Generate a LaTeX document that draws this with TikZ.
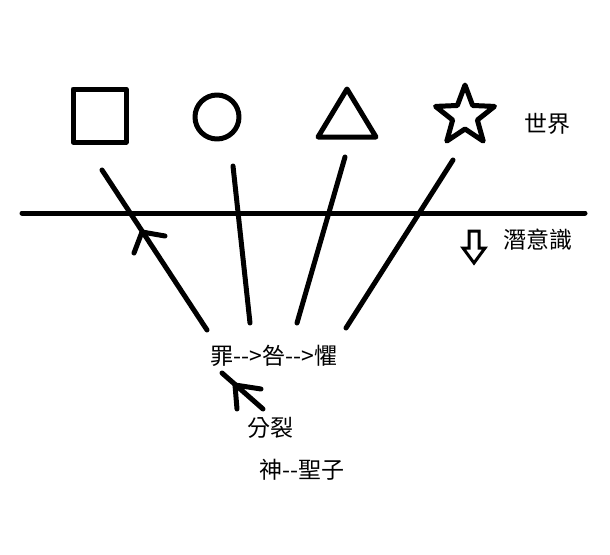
\documentclass[tikz,border=0pt]{standalone}
\usepackage{fontspec}
\setmainfont{Noto Sans CJK TC}
\begin{document}
\begin{tikzpicture}[x=1pt,y=-1pt,
  thick line/.style={line width=5pt,line cap=round,line join=round},
  lbl/.style={font=\fontsize{23}{25}\selectfont,inner sep=0pt}]
\useasboundingbox (0,0) rectangle (610,554);
\draw[thick line] (73,89) rectangle (126,142);
\draw[thick line] (217,117) circle (22);
\draw[thick line] (347,89) -- (376,137) -- (318,137) -- cycle;
\draw[thick line,shift={(465,116)}] (0,-31)
  \foreach \i in {1,...,9}{ -- ({90+36*\i}:{mod(\i,2)==1 ? -13 : -31}) } -- cycle;
\node[lbl] (world) at (547,124) {世界};
\coordinate (hl) at (22,213); \coordinate (hr) at (585,213);
\draw[thick line] (hl) -- (hr);
\node[lbl] (t1) at (274,356) {罪-{}-{}>咎-{}-{}>懼};
\coordinate (a1) at (102,170); \coordinate (b1) at (207,330);
\coordinate (a2) at (233,166); \coordinate (b2) at (250,323);
\coordinate (a3) at (345,157); \coordinate (b3) at (297,323);
\coordinate (a4) at (453,160); \coordinate (b4) at (346,328);
\draw[thick line] (a1) -- (b1);
\draw[thick line] (a2) -- (b2);
\draw[thick line] (a3) -- (b3);
\draw[thick line] (a4) -- (b4);
\coordinate (tip1) at (142,232);
\draw[thick line] (165,236) -- (tip1) -- (134,253);
\node[lbl] (split) at (270,428) {分裂};
\coordinate (s1) at (263,409); \coordinate (s2) at (222,373);
\draw[thick line] (s1) -- (s2);
\coordinate (tip2) at (235,385);
\draw[thick line] (261,389) -- (tip2) -- (237,409);
\node[lbl] (god) at (302,470) {神-{}-聖子};
\draw[line width=3pt,line join=miter] (469,231) -- (479,231) -- (479,248) -- (485,248) -- (474,263) -- (463,248) -- (469,248) -- cycle;
\node[lbl] (sub) at (538,240) {潛意識};
\end{tikzpicture}
\end{document}
